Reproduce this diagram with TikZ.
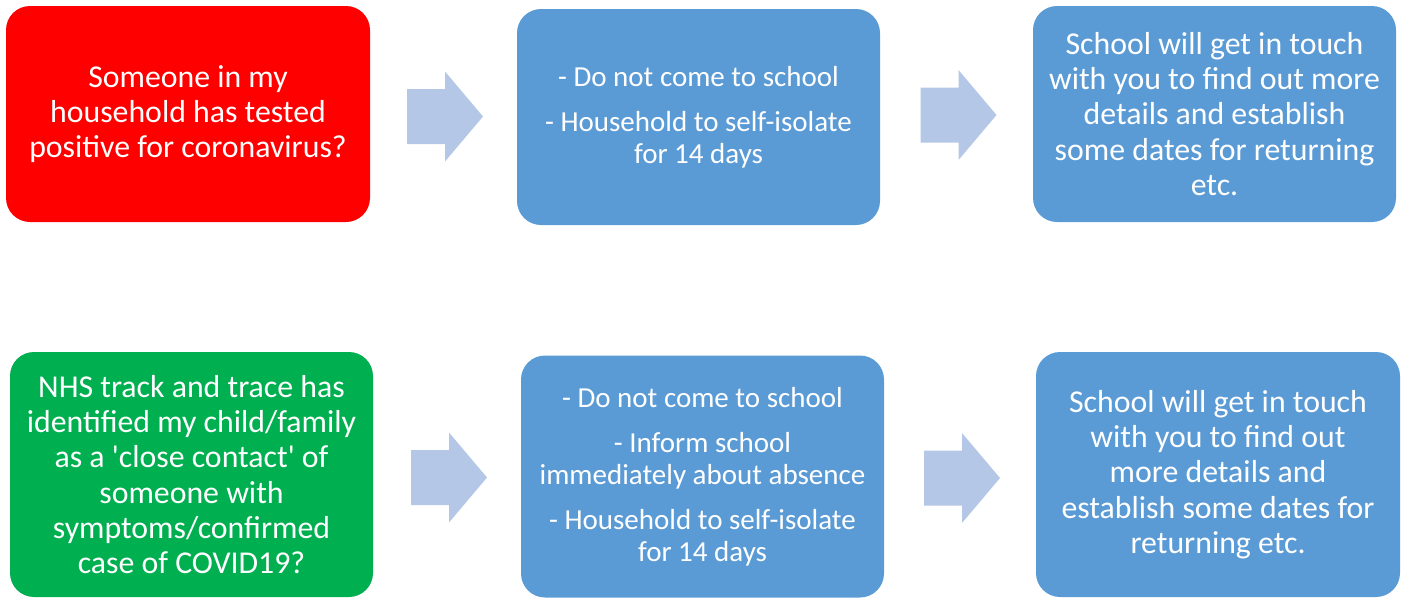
\documentclass[tikz,border=0pt]{standalone}
\usepackage{fontspec}
\newfontfamily\calib{Carlito}
\usetikzlibrary{calc}
\definecolor{redfill}{HTML}{FF0000}
\definecolor{greenfill}{HTML}{00B050}
\definecolor{bluefill}{HTML}{5B9BD5}
\definecolor{arrowfill}{HTML}{B4C7E7}
\tikzset{
  box/.style={rectangle, rounded corners=24pt, minimum width=363pt, text=white,
    align=center, inner sep=0pt, font=\calib\fontsize{31.8}{35.3}\selectfont},
  smalltext/.style={font=\calib\fontsize{29}{32}\selectfont},
  toprow/.style={minimum height=216pt},
  botrow/.style={minimum height=245pt},
  blockarrow/.pic={\fill[arrowfill] (-38,-27.5) -- (0,-27.5) -- (0,-45) -- (38,0)
    -- (0,45) -- (0,27.5) -- (-38,27.5) -- cycle;}
}
\begin{document}
\begin{tikzpicture}[x=1pt,y=-1pt]
\useasboundingbox (0,0) rectangle (1403,598);
% top row
\node[box, toprow, fill=redfill, minimum width=364pt] (r1) at (188,114)
  {Someone in my\\household has tested\\positive for coronavirus?};
\node[box, toprow, smalltext, fill=bluefill] (b2) at (698.5,117)
  {- Do not come to school\\[13pt]- Household to self-isolate\\for 14 days};
\node[box, toprow, fill=bluefill] (b3) at (1214.5,114)
  {School will get in touch\\with you to find out more\\details and establish\\some dates for returning\\etc.};
% bottom row
\node[box, botrow, fill=greenfill] (g1) at (191.5,474.5)
  {NHS track and trace has\\identified my child/family\\as a 'close contact' of\\someone with\\symptoms/confirmed\\case of COVID19?};
\node[box, minimum height=242pt, smalltext, fill=bluefill] (b5) at (702.5,476.5)
  {- Do not come to school\\[13pt]- Inform school\\immediately about absence\\[13pt]- Household to self-isolate\\for 14 days};
\node[box, botrow, fill=bluefill, minimum width=364pt] (b6) at (1218,474.5)
  {School will get in touch\\with you to find out\\more details and\\establish some dates for\\returning etc.};
% block arrows
\pic at ($(r1.east)!0.5!(b2.west)+(1.5,1)$) {blockarrow};
\pic at ($(b2.east)!0.5!(b3.west)+(2,-0.5)$) {blockarrow};
\pic at ($(g1.east)!0.5!(b5.west)+(2,2)$) {blockarrow};
\pic at ($(b5.east)!0.5!(b6.west)+(2,2.5)$) {blockarrow};
\end{tikzpicture}
\end{document}
